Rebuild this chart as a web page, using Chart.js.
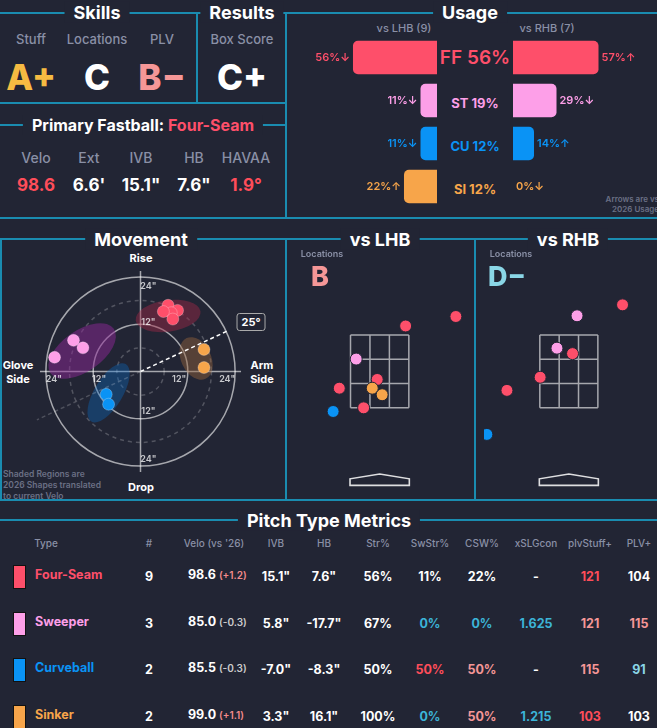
<!DOCTYPE html>
<html>
<head>
<meta charset="utf-8">
<script src="https://cdn.jsdelivr.net/npm/chart.js@4"></script>
<style>
  body { margin: 0; background: #222534; font-family: Inter, "DejaVu Sans", sans-serif; }
  #page { position: relative; width: 657px; height: 728px; overflow: hidden; background: #222534; color: #fff; }
  .hl { position: absolute; height: 2px; background: #1a8cb0; }
  .vl { position: absolute; width: 2px; background: #1a8cb0; }
  .t { position: absolute; white-space: nowrap; transform: translate(-50%, -50%); }
  .title { font-weight: 700; font-size: 18px; background: #222534; padding: 0 9px; }
  .lab { font-size: 13px; font-weight: 500; }
  .grade { font-size: 35px; font-weight: 800; }
  .big { font-size: 16px; font-weight: 700; }
  .cv { position: absolute; }
  .small { color: #6b7085; font-size: 8px; font-weight: 600; line-height: 10px; position: absolute; }
  .th { font-size: 10px; font-weight: 500; }
  .td { font-size: 12.5px; font-weight: 700; }
</style>
</head>
<body>
<div id="page"></div>
<script>
// ---- data ----
const pitchTypes = ['FF', 'ST', 'CU', 'SI'];
const pitchNames = ['Four-Seam', 'Sweeper', 'Curveball', 'Sinker'];
const pitchColors = ['#fe4f6a', '#fd9fe8', '#0a93f5', '#f7a54a'];

const usageLhb = [56, 11, 11, 22];
const usageRhb = [57, 29, 14, 0];
const arrowsLhb = ['↓', '↓', '↓', '↑'];
const arrowsRhb = ['↑', '↓', '↑', '↓'];
const usageTotal = [56, 19, 12, 12];

// movement (inches): HB arm side +, IVB
const moveHB = [7.0, 9.4, 7.8, 5.8, 8.2, -17.0, -14.6, -21.8, -8.7, -8.1, 16.1, 16.1];
const moveIVB = [16.8, 15.5, 14.9, 15.2, 13.3, 7.9, 6.0, 3.6, -5.8, -8.3, 5.6, 1.0];
const moveType = [0, 0, 0, 0, 0, 1, 1, 1, 2, 2, 3, 3];
// 2026 shapes: centre HB, centre IVB, semi-axes, rotation
const shapeHB = [7.0, -14.8, -8.1, 14.1];
const shapeIVB = [14.1, 5.2, -5.4, 3.3];
const shapeRx = [8.3, 9.8, 8.5, 5.7];
const shapeRy = [4.0, 5.2, 3.6, 3.8];
const shapeRot = [-8, -35, -59, 65];
const armAngle = 25;

// locations (feet)
const lhbX = [1.85, 0.63, -0.57, -0.06, -0.98, -0.18, 0.06, -0.39, -1.13];
const lhbY = [4.01, 3.75, 2.84, 2.28, 2.04, 2.04, 1.86, 1.50, 1.40];
const lhbType = [0, 0, 1, 0, 0, 3, 3, 0, 2];
const rhbX = [1.31, 0.20, -0.29, 0.09, -0.70, -1.51, -2.0];
const rhbY = [4.33, 4.03, 3.14, 2.99, 2.34, 1.98, 0.77];
const rhbType = [0, 1, 1, 0, 0, 0, 2];

// table
const tCount = [9, 3, 2, 2];
const tVelo = ['98.6', '85.0', '85.5', '99.0'];
const tVeloDiff = ['(+1.2)', '(-0.3)', '(-0.3)', '(+1.1)'];
const tIVB = ['15.1"', '5.8"', '-7.0"', '3.3"'];
const tHB = ['7.6"', '-17.7"', '-8.3"', '16.1"'];
const tStr = ['56%', '67%', '50%', '100%'];
const tSwStr = ['11%', '0%', '50%', '0%'];
const tCSW = ['22%', '0%', '50%', '50%'];
const tXslg = ['-', '1.625', '-', '1.215'];
const tStuff = [121, 121, 115, 103];
const tPlv = [104, 115, 91, 103];

// ---- layout helpers ----
const page = document.getElementById('page');
function el(cls, css, html) {
  const d = document.createElement('div');
  d.className = cls;
  d.style.cssText = css;
  if (html !== undefined) d.innerHTML = html;
  page.appendChild(d);
  return d;
}
function text(x, y, cls, html, color, extra) {
  return el('t ' + cls, `left:${x}px;top:${y}px;color:${color || '#fff'};${extra || ''}`, html);
}

const RED = '#ff4d5a', SALMON = '#f59797', CYAN = '#3cb4d8', LCYAN = '#8ad6e6', YEL = '#f6bb42', GREY = '#8a90a6';

// frame lines
el('hl', 'left:0;top:12px;width:657px');
el('hl', 'left:0;top:102px;width:286px');
el('hl', 'left:0;top:124px;width:286px');
el('hl', 'left:0;top:217px;width:657px');
el('hl', 'left:0;top:238px;width:657px');
el('hl', 'left:0;top:499px;width:657px');
el('hl', 'left:0;top:519px;width:657px');
el('vl', 'left:196px;top:12px;height:91px');
el('vl', 'left:285px;top:12px;height:206px');
el('vl', 'left:285px;top:238px;height:262px');
el('vl', 'left:474px;top:238px;height:262px');
el('vl', 'left:0;top:238px;height:262px');

// titles
text(97, 12, 'title', 'Skills');
text(242, 12, 'title', 'Results');
text(470, 12, 'title', 'Usage');
text(143, 125, 'title', 'Primary Fastball: <span style="color:#fe4f6a">Four-Seam</span>', '#fff', 'font-size:16px');
text(141, 239, 'title', 'Movement');
text(380, 239, 'title', 'vs LHB');
text(568, 239, 'title', 'vs RHB');
text(329, 520, 'title', 'Pitch Type Metrics');

// skills / results
text(31, 39, 'lab', 'Stuff', GREY);
text(97, 39, 'lab', 'Locations', GREY);
text(162, 39, 'lab', 'PLV', GREY);
text(242, 39, 'lab', 'Box Score', GREY);
text(31, 77, 'grade', 'A+', YEL);
text(97, 77, 'grade', 'C');
text(162, 77, 'grade', 'B−', SALMON);
text(242, 77, 'grade', 'C+');

// fastball
const fbX = [36, 89, 141, 194, 246];
const fbLab = ['Velo', 'Ext', 'IVB', 'HB', 'HAVAA'];
const fbVal = ['98.6', '6.6\'', '15.1"', '7.6"', '1.9°'];
const fbCol = [RED, '#fff', '#fff', '#fff', RED];
fbX.forEach((x, i) => {
  text(x, 157, 'lab', fbLab[i], GREY, 'font-size:14px');
  text(x, 185, 'big', fbVal[i], fbCol[i], 'font-size:17px');
});

// usage labels
text(404, 28, 'lab', 'vs LHB (9)', GREY, 'font-size:11px');
text(547, 28, 'lab', 'vs RHB (7)', GREY, 'font-size:11px');
pitchTypes.forEach((p, i) => {
  const y = 57 + i * 43;
  text(475, y + (i ? 3 : 0), 'big', `${p} ${usageTotal[i]}%`, pitchColors[i], i ? 'font-size:13px' : 'font-size:19px;font-weight:600');
});
el('small', 'right:-2px;top:194px;text-align:right', 'Arrows are vs<br>2026 Usage');

function canvasBox(x, y, w, h) {
  const d = el('cv', `left:${x}px;top:${y}px;width:${w}px;height:${h}px`);
  const c = document.createElement('canvas');
  d.appendChild(c);
  return c;
}

const pctLabels = {
  id: 'pctLabels',
  afterDatasetsDraw(chart, args, opts) {
    const ctx = chart.ctx;
    const meta = chart.getDatasetMeta(0);
    ctx.save();
    ctx.font = '600 11px Inter';
    ctx.textBaseline = 'middle';
    meta.data.forEach((bar, i) => {
      ctx.fillStyle = pitchColors[i];
      ctx.textAlign = opts.side === 'left' ? 'right' : 'left';
      const x = opts.side === 'left' ? bar.x - 3 : bar.x + 3;
      ctx.fillText(opts.values[i] + '%' + opts.arrows[i], x, bar.y);
    });
    ctx.restore();
  }
};

function usageChart(canvas, values, arrows, side, max) {
  new Chart(canvas, {
    type: 'bar',
    data: {
      labels: pitchTypes,
      datasets: [{
        data: values,
        backgroundColor: pitchColors,
        barPercentage: 0.78,
        categoryPercentage: 1,
        borderRadius: { topLeft: side === 'left' ? 5 : 0, bottomLeft: side === 'left' ? 5 : 0, topRight: side === 'right' ? 5 : 0, bottomRight: side === 'right' ? 5 : 0 },
        borderSkipped: false
      }]
    },
    options: {
      indexAxis: 'y',
      responsive: true,
      maintainAspectRatio: false,
      animation: false,
      layout: { padding: 0 },
      plugins: { legend: { display: false }, tooltip: { enabled: false }, pctLabels: { side, values, arrows } },
      scales: {
        x: { display: false, min: 0, max, reverse: side === 'left' },
        y: { display: false }
      }
    },
    plugins: [pctLabels]
  });
}
usageChart(canvasBox(300, 36, 137, 172), usageLhb, arrowsLhb, 'left', 91.3);
usageChart(canvasBox(513, 36, 144, 172), usageRhb, arrowsRhb, 'right', 96);

// movement
text(141, 258, 'big', 'Rise', '#fff', 'font-size:11px');
text(141, 487, 'big', 'Drop', '#fff', 'font-size:11px');
text(18, 372, 'big', 'Glove<br>Side', '#fff', 'font-size:11px;text-align:center;line-height:14px');
text(262, 372, 'big', 'Arm<br>Side', '#fff', 'font-size:11px;text-align:center;line-height:14px');
text(251, 322, 'big', armAngle + '°', '#fff', 'font-size:11px;border:1.5px solid #aaa;border-radius:3px;padding:1px 4px;background:#222534');
el('small', 'left:3px;top:469px;font-size:8.5px;line-height:11px', 'Shaded Regions are<br>2026 Shapes translated<br>to current Velo');

const polarBg = {
  id: 'polarBg',
  beforeDatasetsDraw(chart) {
    const { ctx, scales: { x, y } } = chart;
    const cx = x.getPixelForValue(0), cy = y.getPixelForValue(0);
    const px = x.getPixelForValue(1) - cx;
    ctx.save();
    [6, 12, 18, 24].forEach(r => {
      ctx.beginPath();
      ctx.setLineDash(r % 12 ? [4, 4] : []);
      ctx.strokeStyle = r % 12 ? 'rgba(255,255,255,0.22)' : 'rgba(255,255,255,0.6)';
      ctx.lineWidth = 1.5;
      ctx.arc(cx, cy, r * px, 0, Math.PI * 2);
      ctx.stroke();
    });
    ctx.setLineDash([]);
    ctx.strokeStyle = 'rgba(255,255,255,0.6)';
    ctx.beginPath();
    ctx.moveTo(x.getPixelForValue(-25.5), cy); ctx.lineTo(x.getPixelForValue(25.5), cy);
    ctx.moveTo(cx, y.getPixelForValue(25.5)); ctx.lineTo(cx, y.getPixelForValue(-25.5));
    ctx.stroke();
    // shapes
    shapeHB.forEach((h, i) => {
      ctx.beginPath();
      ctx.ellipse(x.getPixelForValue(h), y.getPixelForValue(shapeIVB[i]), shapeRx[i] * px, shapeRy[i] * px, shapeRot[i] * Math.PI / 180, 0, Math.PI * 2);
      ctx.fillStyle = ['rgba(160,40,70,0.45)', 'rgba(140,40,150,0.5)', 'rgba(10,110,200,0.35)', 'rgba(150,100,60,0.45)'][i];
      ctx.fill();
    });
    // arm angle
    const a = armAngle * Math.PI / 180;
    ctx.setLineDash([4, 3]);
    ctx.strokeStyle = '#fff';
    ctx.beginPath();
    ctx.moveTo(cx, cy);
    ctx.lineTo(x.getPixelForValue(24.7 * Math.cos(a)), y.getPixelForValue(24.7 * Math.sin(a)));
    ctx.stroke();
    ctx.strokeStyle = 'rgba(255,255,255,0.2)';
    ctx.beginPath();
    ctx.moveTo(cx, cy);
    ctx.lineTo(x.getPixelForValue(-29 * Math.cos(a)), y.getPixelForValue(-29 * Math.sin(a)));
    ctx.stroke();
    ctx.setLineDash([]);
    // ring labels
    ctx.fillStyle = 'rgba(255,255,255,0.75)';
    ctx.font = '600 9px Inter';
    ctx.textAlign = 'center';
    ctx.textBaseline = 'middle';
    [[2, 21.5, '24"'], [2, 12.6, '12"'], [2, -10, '12"'], [2, -22.3, '24"'], [-22, -2, '24"'], [-10.5, -2, '12"'], [9.8, -2, '12"'], [22, -2, '24"']]
      .forEach(([hx, vy, s]) => ctx.fillText(s, x.getPixelForValue(hx), y.getPixelForValue(vy)));
    ctx.restore();
  }
};

new Chart(canvasBox(31, 262, 219, 219), {
  type: 'scatter',
  data: {
    datasets: [{
      data: moveHB.map((h, i) => ({ x: h, y: moveIVB[i] })),
      backgroundColor: moveType.map(t => pitchColors[t]),
      borderColor: 'rgba(255,255,255,0.25)',
      borderWidth: 1,
      pointRadius: 6
    }]
  },
  options: {
    responsive: true, maintainAspectRatio: false, animation: false,
    layout: { padding: 0 },
    plugins: { legend: { display: false }, tooltip: { enabled: false } },
    scales: { x: { display: false, min: -26, max: 26 }, y: { display: false, min: -26, max: 26 } }
  },
  plugins: [polarBg]
});

// locations
const zoneBg = {
  id: 'zoneBg',
  beforeDatasetsDraw(chart) {
    const { ctx, scales: { x, y } } = chart;
    ctx.save();
    ctx.strokeStyle = 'rgba(255,255,255,0.6)';
    ctx.lineWidth = 1.5;
    const xs = [-0.708, -0.236, 0.236, 0.708], ys = [1.5, 2.1667, 2.8333, 3.5];
    ctx.beginPath();
    xs.forEach(v => { ctx.moveTo(x.getPixelForValue(v), y.getPixelForValue(1.5)); ctx.lineTo(x.getPixelForValue(v), y.getPixelForValue(3.5)); });
    ys.forEach(v => { ctx.moveTo(x.getPixelForValue(-0.708), y.getPixelForValue(v)); ctx.lineTo(x.getPixelForValue(0.708), y.getPixelForValue(v)); });
    ctx.stroke();
    ctx.strokeStyle = 'rgba(255,255,255,0.85)';
    ctx.lineWidth = 1.6;
    ctx.beginPath();
    [[-0.72, -0.63], [-0.72, -0.45], [0, -0.32], [0.72, -0.45], [0.72, -0.63]].forEach(([a, b], i) => {
      i ? ctx.lineTo(x.getPixelForValue(a), y.getPixelForValue(b)) : ctx.moveTo(x.getPixelForValue(a), y.getPixelForValue(b));
    });
    ctx.closePath();
    ctx.stroke();
    ctx.restore();
  }
};

function locChart(canvas, xs, ys, types, xmin, xmax) {
  new Chart(canvas, {
    type: 'scatter',
    data: {
      datasets: [{
        data: xs.map((v, i) => ({ x: v, y: ys[i] })),
        backgroundColor: types.map(t => pitchColors[t]),
        borderColor: '#222534',
        borderWidth: 1,
        pointRadius: 6,
        clip: 0
      }]
    },
    options: {
      responsive: true, maintainAspectRatio: false, animation: false,
      layout: { padding: 0 },
      plugins: { legend: { display: false }, tooltip: { enabled: false } },
      scales: { x: { display: false, min: xmin, max: xmax }, y: { display: false, min: -0.84, max: 5.92 } }
    },
    plugins: [zoneBg]
  });
}
locChart(canvasBox(287, 240, 187, 260), lhbX, lhbY, lhbType, -2.08, 2.12);
locChart(canvasBox(477, 240, 180, 260), rhbX, rhbY, rhbType, -2.07, 1.98);

text(322, 253, 'lab', 'Locations', GREY, 'font-size:9px;font-weight:600');
text(511, 253, 'lab', 'Locations', GREY, 'font-size:9px;font-weight:600');
text(320, 276, 'grade', 'B', SALMON, 'font-size:27px');
text(507, 276, 'grade', 'D−', LCYAN, 'font-size:27px');

// table
const cols = [[149, '#'], [189, 'Velo (vs \'26)'], [276, 'IVB'], [324, 'HB'], [378, 'Str%'], [430, 'SwStr%'], [482, 'CSW%'], [536, 'xSLGcon'], [590, 'plvStuff+'], [639, 'PLV+']];
text(46, 543, 'th', 'Type', GREY);
cols.forEach(([x, s], i) => text(i === 1 ? 214 : x, 543, 'th', s, GREY));
const swCol = v => v === '0%' ? CYAN : v === '50%' ? RED : '#fff';
const cswCol = v => v === '0%' ? CYAN : v === '50%' ? SALMON : '#fff';
const stuffCol = [RED, SALMON, SALMON, RED];
const plvCol = ['#fff', SALMON, LCYAN, '#fff'];
const diffCol = ['#f28b8b', '#ccc', '#ccc', '#f28b8b'];
pitchNames.forEach((n, i) => {
  const y = 576 + i * 46.7;
  el('', `position:absolute;left:13px;top:${y - 11}px;width:11px;height:22px;background:${pitchColors[i]};border:1px solid #111`);
  el('td', `position:absolute;left:35px;top:${y - 9}px;color:${pitchColors[i]}`, n);
  text(149, y, 'td', tCount[i]);
  el('td', `position:absolute;left:188px;top:${y - 9}px`, `${tVelo[i]} <span style="font-size:10px;font-weight:600;color:${diffCol[i]}">${tVeloDiff[i]}</span>`);
  text(276, y, 'td', tIVB[i]);
  text(324, y, 'td', tHB[i]);
  text(378, y, 'td', tStr[i]);
  text(430, y, 'td', tSwStr[i], swCol(tSwStr[i]));
  text(482, y, 'td', tCSW[i], cswCol(tCSW[i]));
  text(536, y, 'td', tXslg[i], tXslg[i] === '-' ? '#fff' : CYAN);
  text(590, y, 'td', tStuff[i], stuffCol[i]);
  text(639, y, 'td', tPlv[i], plvCol[i]);
});
</script>
</body>
</html>
